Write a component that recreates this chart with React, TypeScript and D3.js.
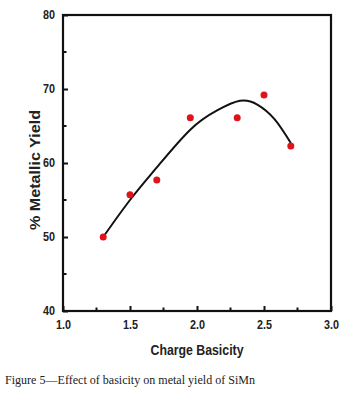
import React, { useEffect, useRef } from 'react';
import * as d3 from 'd3';

// measured points
const basicity = [1.3, 1.5, 1.7, 1.95, 2.3, 2.5, 2.7];
const yieldPct = [50.0, 55.7, 57.7, 66.1, 66.1, 69.2, 62.3];

// fitted curve
const fitX = [1.3, 1.5, 1.7, 1.95, 2.15, 2.32, 2.45, 2.58, 2.7];
const fitY = [50.0, 55.0, 59.4, 64.5, 67.1, 68.4, 67.9, 65.9, 62.7];

const xTicks = [1.0, 1.5, 2.0, 2.5, 3.0];
const xMinor = [1.25, 1.75, 2.25, 2.75];
const yTicks = [40, 50, 60, 70, 80];
const yMinor = [45, 55, 65, 75];

const W = 346;
const H = 397;
const labelFont = '"Liberation Sans", Arial, sans-serif';

const App = () => {
    const svgRef = useRef<SVGSVGElement>(null);

    useEffect(() => {
        document.body.style.margin = '0';
        const svg = d3.select(svgRef.current);
        svg.selectAll('*').remove();

        const left = 63, right = 331, top = 15, bottom = 311;

        const x = d3.scaleLinear().domain([1.0, 3.0]).range([left, right]);
        const y = d3.scaleLinear().domain([40, 80]).range([bottom, top]);

        svg.append('rect')
            .attr('width', W).attr('height', H).attr('fill', 'white');

        // frame
        svg.append('rect')
            .attr('x', left).attr('y', top)
            .attr('width', right - left).attr('height', bottom - top)
            .attr('fill', 'none').attr('stroke', '#111').attr('stroke-width', 2.2);

        // x ticks (inward)
        const xa = svg.append('g').attr('transform', `translate(0,${bottom})`);
        xa.call(d3.axisBottom(x).tickValues(xTicks).tickSize(-5).tickPadding(9)
            .tickFormat(d3.format('.1f')));
        xa.select('.domain').remove();
        xa.selectAll('line').attr('stroke', '#111').attr('stroke-width', 2);
        xa.selectAll('text')
            .attr('font-family', labelFont).attr('font-weight', 'bold')
            .attr('font-size', 12).attr('fill', '#222')
            .attr('textLength', 15).attr('lengthAdjust', 'spacingAndGlyphs');
        xa.selectAll('.minor').data(xMinor).enter().append('line')
            .attr('x1', (d) => x(d)).attr('x2', (d) => x(d))
            .attr('y1', 0).attr('y2', -3.5)
            .attr('stroke', '#111').attr('stroke-width', 2);

        // y ticks (inward)
        const ya = svg.append('g').attr('transform', `translate(${left},0)`);
        ya.call(d3.axisLeft(y).tickValues(yTicks).tickSize(-5).tickPadding(8));
        ya.select('.domain').remove();
        ya.selectAll('line').attr('stroke', '#111').attr('stroke-width', 2);
        ya.selectAll('text')
            .attr('font-family', labelFont).attr('font-weight', 'bold')
            .attr('font-size', 12).attr('fill', '#222')
            .attr('textLength', 12).attr('lengthAdjust', 'spacingAndGlyphs');
        ya.selectAll('.minor').data(yMinor).enter().append('line')
            .attr('y1', (d) => y(d)).attr('y2', (d) => y(d))
            .attr('x1', 0).attr('x2', 3.5)
            .attr('stroke', '#111').attr('stroke-width', 2);

        // fitted line
        const line = d3.line<number>()
            .x((d) => x(d))
            .y((_, i) => y(fitY[i]))
            .curve(d3.curveNatural);
        svg.append('path')
            .datum(fitX)
            .attr('fill', 'none')
            .attr('stroke', '#111')
            .attr('stroke-width', 2)
            .attr('d', line);

        // points
        svg.selectAll('circle.pt')
            .data(basicity)
            .enter()
            .append('circle')
            .attr('class', 'pt')
            .attr('cx', (d) => x(d))
            .attr('cy', (_, i) => y(yieldPct[i]))
            .attr('r', 3.5)
            .attr('fill', '#e0121c');

        svg.append('text')
            .attr('x', 197)
            .attr('y', 355)
            .attr('text-anchor', 'middle')
            .attr('font-family', labelFont)
            .attr('font-weight', 'bold')
            .attr('font-size', 15)
            .attr('fill', '#222')
            .attr('textLength', 93)
            .attr('lengthAdjust', 'spacingAndGlyphs')
            .text('Charge Basicity');

        svg.append('text')
            .attr('transform', 'rotate(-90)')
            .attr('x', -170)
            .attr('y', 40)
            .attr('text-anchor', 'middle')
            .attr('font-family', labelFont)
            .attr('font-weight', 'bold')
            .attr('font-size', 15)
            .attr('fill', '#222')
            .attr('textLength', 120)
            .attr('lengthAdjust', 'spacingAndGlyphs')
            .text('% Metallic Yield');

        svg.append('text')
            .attr('x', 5)
            .attr('y', 384)
            .attr('font-family', '"Liberation Serif", "DejaVu Serif", serif')
            .attr('font-size', 12)
            .attr('fill', '#222')
            .attr('textLength', 250)
            .attr('lengthAdjust', 'spacingAndGlyphs')
            .text('Figure 5—Effect of basicity on metal yield of SiMn');
    }, []);

    return <svg ref={svgRef} width={W} height={H} style={{ display: 'block' }}></svg>;
};

export default App;
